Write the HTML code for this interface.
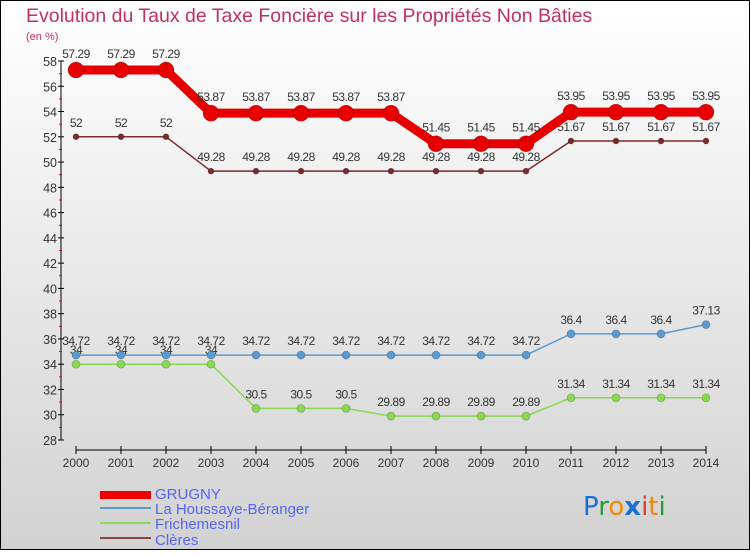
<!DOCTYPE html>
<html><head><meta charset="utf-8"><style>
html,body{margin:0;padding:0}
body{width:750px;height:550px;overflow:hidden;font-family:"Liberation Sans",sans-serif}
</style></head><body>
<svg id="chart" width="750" height="550" xmlns="http://www.w3.org/2000/svg">
<defs><linearGradient id="bg" x1="0" y1="0" x2="0" y2="1"><stop offset="0" stop-color="#ffffff"/><stop offset="1" stop-color="#d2d2d2"/></linearGradient></defs>
<rect x="0.5" y="0.5" width="749" height="549" fill="url(#bg)" stroke="#000"/>
<text x="26" y="22" font-size="19.5" fill="#c2305e">Evolution du Taux de Taxe Foncière sur les Propriétés Non Bâties</text>
<text x="26" y="40" font-size="11" fill="#c2305e">(en %)</text>
<g id="axes"></g><g id="series"></g>
<g>
<rect x="100" y="491" width="51" height="8" fill="#e00"/>
<text x="155" y="499" font-size="15" fill="#5566ee">GRUGNY</text>
<rect x="100" y="507" width="51" height="2" fill="#5a9ad0"/>
<text x="155" y="514" font-size="15" fill="#5566ee">La Houssaye-Béranger</text>
<rect x="100" y="522" width="51" height="2" fill="#8ed860"/>
<text x="155" y="529" font-size="15" fill="#5566ee">Frichemesnil</text>
<rect x="100" y="537" width="51" height="2" fill="#884444"/>
<text x="155" y="545" font-size="15" fill="#5566ee">Clères</text>
</g>
<text x="583" y="515" font-size="26" font-family="DejaVu Sans, sans-serif"><tspan fill="#1a6fd0">P</tspan><tspan fill="#2a9a3a">r</tspan><tspan fill="#f08a00">o</tspan><tspan fill="#1a6fd0" font-weight="bold">x</tspan><tspan fill="#e33">i</tspan><tspan fill="#f08a00">t</tspan><tspan fill="#2a9a3a">i</tspan></text>
</svg>
<script>
const years=[2000,2001,2002,2003,2004,2005,2006,2007,2008,2009,2010,2011,2012,2013,2014];
const grugny=[57.29,57.29,57.29,53.87,53.87,53.87,53.87,53.87,51.45,51.45,51.45,53.95,53.95,53.95,53.95];
const houssaye=[34.72,34.72,34.72,34.72,34.72,34.72,34.72,34.72,34.72,34.72,34.72,36.4,36.4,36.4,37.13];
const frichemesnil=[34,34,34,34,30.5,30.5,30.5,29.89,29.89,29.89,29.89,31.34,31.34,31.34,31.34];
const cleres=[52,52,52,49.28,49.28,49.28,49.28,49.28,49.28,49.28,49.28,51.67,51.67,51.67,51.67];
const yTicks=[28,30,32,34,36,38,40,42,44,46,48,50,52,54,56,58];
const NS="http://www.w3.org/2000/svg";
const x=i=>76+i*45;
const y=v=>440-(v-28)*(379/30);
function mk(tag,attrs,parent,txt){const e=document.createElementNS(NS,tag);for(const k in attrs)e.setAttribute(k,attrs[k]);if(txt!==undefined)e.textContent=txt;parent.appendChild(e);return e;}
const ax=document.getElementById('axes');
let e=mk('line',{x1:61,y1:y(58),x2:61,y2:440,stroke:'#000'},ax);


yTicks.forEach(t=>{
  mk('line',{x1:58,x2:64,y1:y(t),y2:y(t),stroke:'#000'},ax);
  if(t<58) mk('line',{x1:59,x2:62,y1:y(t+1),y2:y(t+1),stroke:'#e00'},ax);
  const l=mk('text',{x:57,y:y(t)+5,'font-size':12.5,fill:'#333','text-anchor':'end'},ax,t);
  
  
});
e=mk('line',{x1:x(0),x2:x(14),y1:450,y2:450,stroke:'#000'},ax);


years.forEach((yr,i)=>{
  mk('line',{x1:x(i),x2:x(i),y1:446,y2:454,stroke:'#000'},ax);
  const l=mk('text',{x:x(i),y:467,'font-size':12,fill:'#333','text-anchor':'middle'},ax,yr);
  
  
});
const sg=document.getElementById('series');
function series(name,vals,color,w,r,labOff){
  const g=mk('g',{},sg);
  
  
  const pts=vals.map((v,i)=>x(i)+','+y(v)).join(' ');
  const pl=mk('polyline',{points:pts,fill:'none',stroke:color,'stroke-width':w,'stroke-linejoin':'round'},g);
  
  
  vals.forEach((v,i)=>{
    const c=mk('circle',{cx:x(i),cy:y(v),r:r,fill:color,stroke:'rgba(0,0,0,0.25)','stroke-width':0.7},g);
    
    
    const t=mk('text',{x:x(i),y:y(v)-labOff,'font-size':12,fill:'#333','text-anchor':'middle','letter-spacing':'-0.5'},g,v);
    
    
  });
}
series('cleres',cleres,'#7a2a2a',1.5,3,10);
series('frichemesnil',frichemesnil,'#88d850',1.5,4,10);
series('la-houssaye',houssaye,'#5a9ad0',1.5,4,10);
series('grugny',grugny,'#e80000',9,8,12);
</script>
</body></html>
